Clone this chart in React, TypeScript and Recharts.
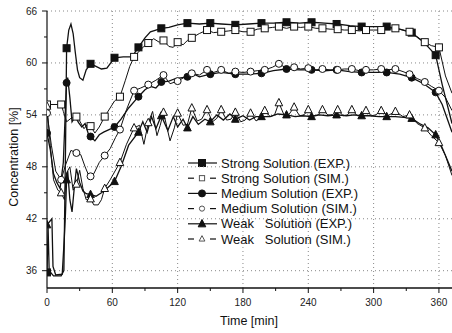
import React from 'react'
import { LineChart, Line, XAxis, YAxis, ReferenceLine, Customized } from 'recharts'

if (typeof document !== 'undefined') document.body.style.margin = '0'

type Pt = [number, number, number?]

const FONT = '"Liberation Sans", Arial, sans-serif'

const xTicks = [0, 30, 60, 90, 120, 150, 180, 210, 240, 270, 300, 330, 360]
const yTicks = [36, 39, 42, 45, 48, 51, 54, 57, 60, 63, 66]
const xGrid = [60, 120, 180, 240, 300, 360]
const yGrid = [36, 42, 48, 54, 60, 66]

// [time (min), concentration (%), marker?]
const strongExp: Pt[] = [
  [0, 35.8, 1], [1, 41], [2, 36], [6, 35.4], [13, 35.4], [15.5, 36], [17, 50], [18, 61.7, 1], [20, 63.8], [22, 64.5],
  [24, 63.4], [26, 61.2], [28, 59.2], [30, 58.3], [33, 58.0], [36, 59.2], [40, 59.9, 1], [45, 59.6], [50, 59.3],
  [55, 59.4], [62, 60.6, 1], [70, 60.7], [78, 60.7], [84, 61.8, 1], [90, 62.9], [95, 63.6], [100, 63.8], [105, 64.0, 1],
  [112, 64.1], [120, 64.4], [129, 64.6, 1], [140, 64.5], [150, 64.6, 1], [160, 64.5], [173, 64.4, 1], [185, 64.5],
  [197, 64.6, 1], [208, 64.6], [220, 64.7, 1], [232, 64.6], [243, 64.7, 1], [255, 64.6], [266, 64.5, 1], [278, 64.3],
  [289, 64.2, 1], [300, 64.2], [312, 64.2, 1], [324, 63.9], [335, 63.5, 1], [346, 62.4], [357, 60.9, 1], [363, 57.5],
  [372, 53.0],
]

const strongSim: Pt[] = [
  [0, 55.2, 1], [13, 55.2, 1], [15, 54.4], [18, 53.2], [22, 53.6], [27, 53.8, 1], [30, 53.3], [34, 52.4], [37, 52.9],
  [40, 52.7, 1], [44, 51.9], [48, 52.6], [53, 53.8, 1], [58, 54.8], [62, 55.6], [67, 56.1, 1], [72, 58.0], [76, 59.6],
  [80, 60.7, 1], [85, 61.4], [89, 61.9], [93, 62.3, 1], [98, 62.8], [103, 62.4], [107, 62.6, 1], [112, 61.9],
  [116, 61.8], [120, 62.4, 1], [125, 62.1], [129, 62.6], [133, 62.9, 1], [140, 63.4], [147, 63.8, 1], [153, 63.5],
  [160, 63.6, 1], [167, 63.7], [173, 63.8, 1], [180, 63.6], [187, 63.6, 1], [193, 63.9], [200, 64.0, 1], [207, 64.1],
  [213, 64.2, 1], [220, 64.0], [227, 64.2, 1], [233, 64.1], [240, 64.2, 1], [247, 64.0], [253, 64.0, 1], [260, 63.9],
  [267, 63.9, 1], [273, 63.8], [280, 63.8, 1], [287, 63.7], [293, 63.8, 1], [300, 63.8], [307, 63.8, 1], [313, 63.9],
  [320, 64.0, 1], [327, 63.8], [333, 63.6, 1], [340, 63.0], [347, 62.4, 1], [353, 62.0], [360, 61.8, 1], [366, 58.5],
  [372, 56.5],
]

const mediumExp: Pt[] = [
  [0, 51.9, 1], [3, 50], [6, 47.2], [9, 46.2], [12, 45.5], [15, 48.5], [17, 55], [18, 57.7, 1], [19, 58.3], [21, 56],
  [23, 53.2], [26, 53.8], [29, 53.1], [32, 52.6], [35, 53], [38, 51.8], [40, 51.5, 1], [44, 51.0], [48, 51.7],
  [52, 52.0], [57, 52.3], [62, 52.6, 1], [68, 53.5], [75, 54.8], [84, 56.1, 1], [90, 56.9], [95, 57.3], [100, 57.1],
  [105, 57.8, 1], [112, 57.9], [118, 58.2], [129, 58.4, 1], [135, 58.7], [140, 58.4], [150, 58.7, 1], [160, 58.9],
  [173, 58.7, 1], [185, 58.7], [197, 58.8, 1], [208, 59.1], [220, 59.3, 1], [232, 59.2], [243, 59.2, 1], [255, 59.1],
  [266, 59.2, 1], [278, 59.0], [289, 58.9, 1], [300, 58.9], [312, 58.9, 1], [324, 58.7], [335, 58.3, 1], [346, 57.6],
  [357, 56.6, 1], [363, 55.2], [372, 52.0],
]

const mediumSim: Pt[] = [
  [0, 54.2, 1], [4, 50.5], [8, 47.5], [13, 46.5, 1], [17, 48.2], [22, 49.9], [27, 49.6, 1], [31, 49.4], [35, 48.0],
  [38, 47.1], [40, 46.9, 1], [43, 47.2], [48, 48.5], [53, 49.3, 1], [58, 50.1], [63, 51.4], [67, 52.3, 1], [73, 54.6],
  [80, 56.8, 1], [86, 57.1], [93, 57.5, 1], [100, 58.0], [107, 58.6, 1], [113, 57.6], [120, 57.9, 1], [127, 58.4],
  [133, 58.8, 1], [140, 58.6], [147, 59.2, 1], [153, 58.9], [160, 59.2, 1], [167, 58.8], [173, 59.0, 1], [180, 58.9],
  [187, 59.0, 1], [193, 59.1], [200, 59.2, 1], [207, 59.5], [213, 59.9, 1], [220, 59.4], [227, 59.5, 1], [233, 59.3],
  [240, 59.4, 1], [247, 59.2], [253, 59.3, 1], [260, 59.2], [267, 59.2, 1], [273, 59.3], [280, 59.3, 1], [287, 59.1],
  [293, 59.2, 1], [300, 59.2], [307, 59.3, 1], [313, 59.2], [320, 59.3, 1], [327, 59.0], [333, 58.7, 1], [340, 58.2],
  [347, 57.8, 1], [353, 57.3], [360, 56.8, 1], [366, 56.0], [372, 54.5],
]

const weakExp: Pt[] = [
  [0, 41.3, 1], [4.5, 42], [5.5, 36.5], [8, 35.5], [14, 35.6], [16, 40], [17, 42.7], [18, 46.5, 1], [19, 47.5],
  [21, 44.2], [23, 42.8], [25, 45.5], [27, 47.8], [30, 46.2], [33, 45.2], [36, 44.9], [40, 44.8, 1], [45, 44.6],
  [50, 45.0], [55, 45.5], [62, 46.3, 1], [68, 48.0], [75, 50.5], [84, 52.0, 1], [88, 53.2], [92, 52.0], [96, 53.8],
  [100, 52.4], [105, 53.9, 1], [111, 52.2], [116, 53.8], [120, 52.6], [125, 53.5], [129, 52.5, 1], [134, 53.8],
  [139, 52.9], [145, 53.5], [150, 53.2, 1], [156, 54.0], [162, 53.4], [168, 54.1], [173, 53.5, 1], [180, 53.9],
  [186, 53.4], [192, 53.8], [197, 53.8, 1], [205, 53.8], [212, 54.1], [220, 54.0, 1], [228, 53.8], [235, 53.9],
  [243, 53.8, 1], [250, 54.0], [258, 53.9], [266, 54.0, 1], [275, 53.9], [282, 54.0], [289, 53.9, 1], [296, 53.9],
  [305, 53.8], [312, 53.8, 1], [320, 53.8], [328, 53.7], [335, 53.6, 1], [342, 53.0], [350, 52.5], [357, 51.7, 1],
  [363, 50.2], [372, 47.5],
]

const weakSim: Pt[] = [
  [0, 55, 1], [3, 50.5], [6, 46.5], [10, 45.3], [13, 45.0, 1], [16, 44.2], [18, 47.3], [21, 48.0], [24, 45.3],
  [27, 46.0, 1], [30, 47.6], [33, 45.5], [36, 44.2], [40, 44.3, 1], [43, 43.6], [47, 43.6], [50, 44.2], [53, 45.5, 1],
  [58, 46.5], [62, 47.4], [67, 48.5, 1], [73, 50.6], [80, 52.5, 1], [85, 52.8], [89, 50.6], [93, 53.1, 1], [97, 54.4],
  [101, 51.6], [104, 52.8], [107, 54.3, 1], [113, 51.0], [117, 52.5], [120, 54.2, 1], [125, 52.8], [129, 52.9],
  [133, 54.8, 1], [138, 53.3], [142, 53.5], [147, 54.6, 1], [152, 53.2], [156, 53.6], [160, 54.6, 1], [165, 53.4],
  [169, 53.5], [173, 54.3, 1], [178, 53.2], [182, 53.4], [187, 54.2, 1], [192, 53.3], [196, 53.6], [200, 54.5, 1],
  [205, 53.8], [209, 54.0], [213, 55.4, 1], [218, 53.9], [222, 54.0], [227, 54.9, 1], [232, 53.9], [236, 54.0],
  [240, 54.6, 1], [245, 53.9], [249, 54.0], [253, 54.6, 1], [258, 54.0], [262, 54.0], [267, 54.6, 1], [272, 53.9],
  [276, 54.0], [280, 54.6, 1], [285, 53.9], [289, 54.0], [293, 54.5, 1], [298, 53.9], [302, 54.0], [307, 54.5, 1],
  [313, 53.9], [320, 54.4, 1], [327, 53.8], [333, 54.0, 1], [340, 53.0], [347, 52.5, 1], [353, 51.6], [360, 50.8, 1],
  [366, 49.3], [372, 47.0],
]

const legendLabels = [
  'Strong Solution (EXP.)',
  'Strong Solution (SIM.)',
  'Medium Solution (EXP.)',
  'Medium Solution (SIM.)',
  'Weak   Solution (EXP.)',
  'Weak   Solution (SIM.)',
]

type Shape = 'square' | 'circle' | 'triangle'

const SERIES: { key: string; pts: Pt[]; shape: Shape; filled: boolean; sim: boolean }[] = [
  { key: 'strongExp', pts: strongExp, shape: 'square', filled: true, sim: false },
  { key: 'strongSim', pts: strongSim, shape: 'square', filled: false, sim: true },
  { key: 'mediumExp', pts: mediumExp, shape: 'circle', filled: true, sim: false },
  { key: 'mediumSim', pts: mediumSim, shape: 'circle', filled: false, sim: true },
  { key: 'weakExp', pts: weakExp, shape: 'triangle', filled: true, sim: false },
  { key: 'weakSim', pts: weakSim, shape: 'triangle', filled: false, sim: true },
]

const INK = '#111'

function Marker({ shape, filled, cx, cy, s = 3.5, color = INK }: { shape: Shape; filled: boolean; cx: number; cy: number; s?: number; color?: string }) {
  const fill = filled ? color : '#fff'
  if (shape === 'square') {
    return <rect x={cx - s} y={cy - s} width={s * 2} height={s * 2} fill={fill} stroke={color} strokeWidth={1} />
  }
  if (shape === 'circle') {
    return <circle cx={cx} cy={cy} r={s} fill={fill} stroke={color} strokeWidth={1} />
  }
  const h = s * 1.1
  return (
    <polygon
      points={`${cx},${cy - h - 0.5} ${cx - s - 0.3},${cy + h - 0.8} ${cx + s + 0.3},${cy + h - 0.8}`}
      fill={fill}
      stroke={color}
      strokeWidth={1}
    />
  )
}

const makeDot = (shape: Shape, filled: boolean) => (props: any) => {
  const { cx, cy, payload, index } = props
  if (!payload || !payload.m || cx == null || cy == null) return <g key={`e${index}`} />
  return (
    <g key={`m${index}`}>
      <Marker shape={shape} filled={filled} cx={cx} cy={cy} />
    </g>
  )
}

const TS = 5
const TM = 3

function XTick(props: any) {
  const { x, y, payload } = props
  const ay = y - TS - TM
  const major = payload.value % 60 === 0
  return (
    <g>
      <line x1={x} x2={x} y1={ay} y2={ay + (major ? 5 : 3)} stroke={INK} strokeWidth={1} />
      {major && (
        <text x={x} y={ay + 18} textAnchor="middle" fontSize={10} fontFamily={FONT} fill="#222">
          {payload.value}
        </text>
      )}
    </g>
  )
}

function YTick(props: any) {
  const { x, y, payload } = props
  const ax = x + TS + TM
  const major = payload.value % 6 === 0
  return (
    <g>
      <line x1={ax - (major ? 5 : 3)} x2={ax} y1={y} y2={y} stroke={INK} strokeWidth={1} />
      {major && (
        <text x={ax - 10} y={y + 3.5} textAnchor="end" fontSize={10} fontFamily={FONT} fill="#222">
          {payload.value}
        </text>
      )}
    </g>
  )
}

function YLabel() {
  return (
    <text x={14} y={157} transform="rotate(-90 14 157)" textAnchor="middle" dominantBaseline="central" fontSize={12.5} fontFamily={FONT} fill="#111">
      Concentration [%]
    </text>
  )
}

function XLabel() {
  return (
    <text x={249} y={325} textAnchor="middle" fontSize={12.5} fontFamily={FONT} fill="#111">
      Time [min]
    </text>
  )
}

function LegendBox() {
  return (
    <g>
      {SERIES.map((s, i) => {
        const y = 163 + i * 15.2
        return (
          <g key={s.key}>
            {s.sim ? (
              <>
                <line x1={188} x2={194} y1={y} y2={y} stroke={INK} strokeWidth={1.2} />
                <line x1={210} x2={216} y1={y} y2={y} stroke={INK} strokeWidth={1.2} />
                <Marker shape={s.shape} filled={false} cx={202} cy={y} s={2.6} color="#555" />
              </>
            ) : (
              <>
                <line x1={188} x2={217} y1={y} y2={y} stroke={INK} strokeWidth={1.2} />
                <Marker shape={s.shape} filled cx={202} cy={y} s={3.5} />
              </>
            )}
            <text x={221} y={y + 4.5} fontSize={13} fontFamily={FONT} fill="#111" style={{ whiteSpace: 'pre' }}>
              {legendLabels[i]}
            </text>
          </g>
        )
      })}
    </g>
  )
}

const toRows = (pts: Pt[]) => pts.map(([t, v, m]) => ({ t, v, m: m ? 1 : 0 }))

export default function App() {
  return (
    <div style={{ width: 452, height: 333, background: '#fff' }}>
      <LineChart width={452} height={333} margin={{ top: 11, right: 0, left: 0, bottom: 0 }}>
        <XAxis
          dataKey="t"
          type="number"
          domain={[0, 372]}
          ticks={xTicks}
          interval={0}
          height={45}
          tickSize={TS}
          tickMargin={TM}
          tickLine={false}
          tick={<XTick />}
          axisLine={{ stroke: INK, strokeWidth: 1.5 }}
          allowDataOverflow
          label={<XLabel />}
        />
        <YAxis
          type="number"
          domain={[34, 66]}
          ticks={yTicks}
          interval={0}
          width={47}
          tickSize={TS}
          tickMargin={TM}
          tickLine={false}
          tick={<YTick />}
          axisLine={{ stroke: INK, strokeWidth: 1.2 }}
          allowDataOverflow
          label={<YLabel />}
        />
        {xGrid.map((v) => (
          <ReferenceLine key={`gx${v}`} x={v} stroke="#888" strokeDasharray="1 3" />
        ))}
        {yGrid.map((v) => (
          <ReferenceLine key={`gy${v}`} y={v} stroke="#888" strokeDasharray="1 3" />
        ))}
        {SERIES.map((s) => (
          <Line
            key={s.key}
            data={toRows(s.pts)}
            dataKey="v"
            type="linear"
            stroke={INK}
            strokeWidth={s.sim ? 1 : 1.3}
            dot={makeDot(s.shape, s.filled)}
            activeDot={false}
            isAnimationActive={false}
          />
        ))}
        <Customized component={LegendBox} />
      </LineChart>
    </div>
  )
}
